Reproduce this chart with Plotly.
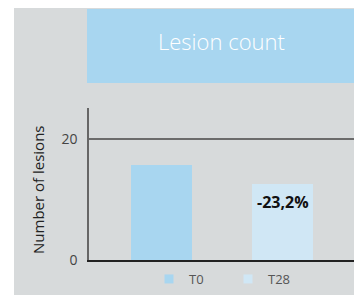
import plotly.graph_objects as go

categories = ["T0", "T28"]
values = [15.7, 12.6]
bar_colors = ["#a8d6f0", "#d0e7f5"]
change_label = "-23,2%"
title_text = "Lesion count"
y_title = "Number of lesions"
y_ticks = [0, 20]

OFF = 8  # page body margin
W, H = 362 - OFF, 295 - OFF
L, R, T, B = 89 - OFF, 8, 108 - OFF, 35
pw, ph = W - L - R, H - T - B

def px_x(px):  # reference pixel -> paper
    return (px - OFF - L) / pw

def px_y(py):
    return (H - B - (py - OFF)) / ph

fig = go.Figure()
for i, (c, v, col) in enumerate(zip(categories, values, bar_colors)):
    fig.add_trace(go.Bar(x=[i], y=[v], name=c, marker=dict(color=col, line=dict(width=0)),
                         width=0.5, showlegend=False))
    fig.add_trace(go.Scatter(x=[None], y=[None], mode="markers", name=c,
                             marker=dict(symbol="square", size=9, color=col), showlegend=True))

fig.add_annotation(x=1, y=9.6, text="<b>" + change_label + "</b>", showarrow=False,
                   xanchor="center", yanchor="middle",
                   font=dict(family="Open Sans", size=16, color="#111111"))

# background and title box
fig.add_shape(type="rect", xref="paper", yref="paper", x0=px_x(14), x1=px_x(370),
              y0=px_y(300), y1=px_y(8), fillcolor="#d7dadb", line=dict(width=0), layer="below")
fig.add_shape(type="rect", xref="paper", yref="paper", x0=px_x(87), x1=px_x(357),
              y0=px_y(83), y1=px_y(9), fillcolor="#a8d6f0", line=dict(width=0), layer="below")
fig.add_annotation(xref="paper", yref="paper", x=px_x(221), y=px_y(41), text=title_text,
                   xanchor="center", yanchor="middle", showarrow=False,
                   font=dict(family="Open Sans", size=22, color="white", weight=300))
fig.add_annotation(xref="paper", yref="paper", x=px_x(38), y=px_y(190), text=y_title,
                   xanchor="center", yanchor="middle", textangle=-90, showarrow=False,
                   font=dict(family="Open Sans", size=15, color="#222222"))

fig.update_layout(
    width=W, height=H,
    margin=dict(l=L, r=R, t=T, b=B, pad=0, autoexpand=False),
    paper_bgcolor="white", plot_bgcolor="rgba(0,0,0,0)",
    bargap=0,
    xaxis=dict(range=[-0.6, 1.59], showticklabels=False, showgrid=False, zeroline=False,
               showline=True, linecolor="#222222", linewidth=1.5, ticks=""),
    yaxis=dict(range=[0, 25.1], tickvals=y_ticks, showgrid=True, gridcolor="#6b6b6b",
               gridwidth=2, zeroline=False, showline=True, linecolor="#666666", linewidth=1.5,
               ticks="", ticklabelstandoff=7,
               tickfont=dict(family="Open Sans", size=14, color="#444444")),
    legend=dict(orientation="h", xref="paper", yref="paper", x=px_x(149), xanchor="left",
                y=px_y(279), yanchor="middle", font=dict(family="Open Sans", size=13, color="#555555"),
                bgcolor="rgba(0,0,0,0)", itemwidth=30, entrywidth=34, entrywidthmode="pixels"),
    showlegend=True,
)

fig.write_html("out.html")
